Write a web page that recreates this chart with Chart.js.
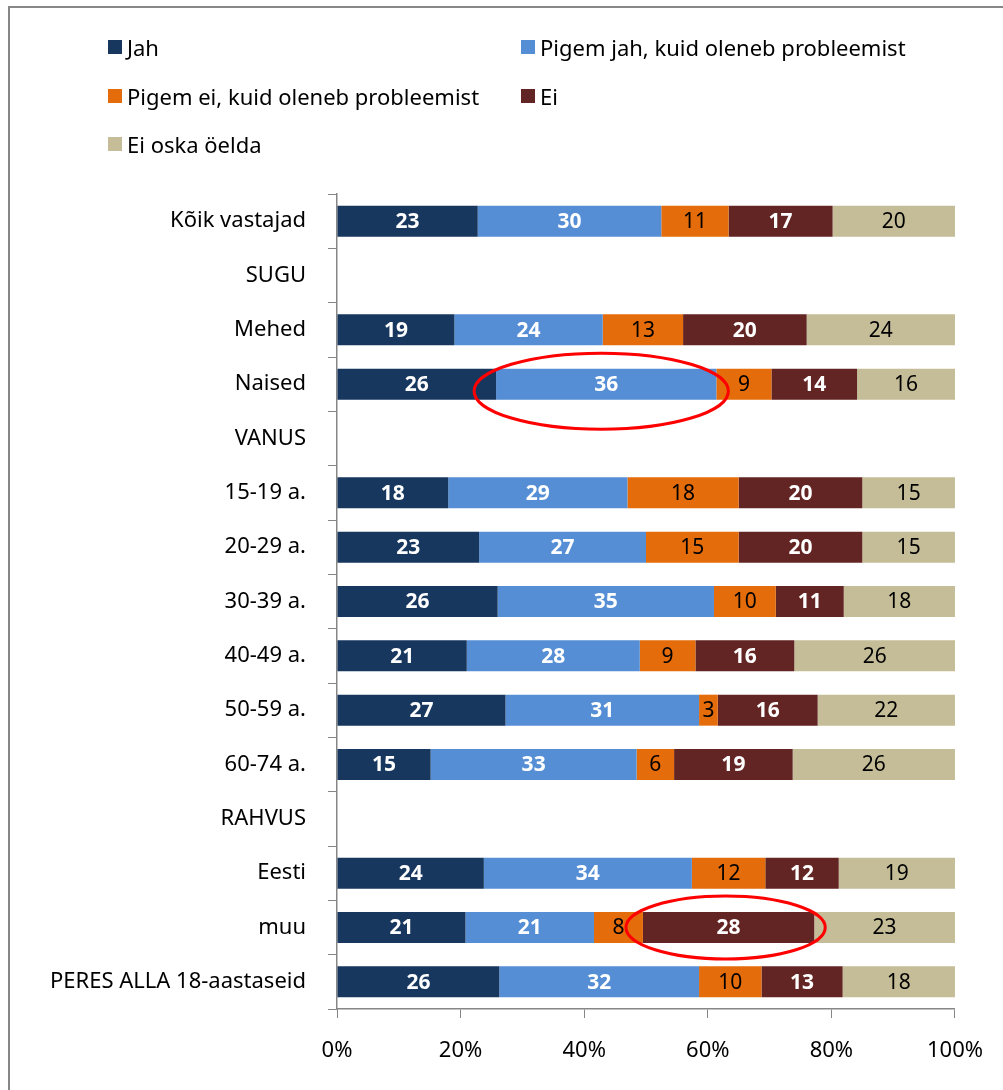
<!DOCTYPE html>
<html>
<head>
<meta charset="utf-8">
<script src="https://cdn.jsdelivr.net/npm/chart.js@4.4.1/dist/chart.umd.min.js"></script>
<style>
  html, body { margin: 0; padding: 0; background: #fff; overflow: hidden; }
  #wrap { position: relative; width: 1003px; height: 1090px; }
  #frame { position: absolute; left: 8px; top: 6px; width: 1100px; height: 1200px; border: 2px solid #878787; }
  #chart { position: absolute; left: 0; top: 0; }
  #legend { position: absolute; left: 108px; top: 23px; display: grid; grid-template-columns: 413px auto;
            font-family: "Noto Sans", sans-serif; font-size: 22px; color: #000; }
  #legend .item { height: 48.5px; display: flex; align-items: center; white-space: nowrap; }
  #legend .box { width: 14px; height: 14px; margin-right: 5px; flex: none; }
</style>
</head>
<body>
<div id="wrap">
  <div id="frame"></div>
  <canvas id="chart" width="1003" height="1090"></canvas>
  <div id="legend"></div>
</div>
<script>
var categories = ['Kõik vastajad', 'SUGU', 'Mehed', 'Naised', 'VANUS', '15-19 a.', '20-29 a.', '30-39 a.',
                  '40-49 a.', '50-59 a.', '60-74 a.', 'RAHVUS', 'Eesti', 'muu', 'PERES ALLA 18-aastaseid'];
var seriesNames = ['Jah', 'Pigem jah, kuid oleneb probleemist', 'Pigem ei, kuid oleneb probleemist', 'Ei', 'Ei oska öelda'];

var jah      = [23, null, 19, 26, null, 18, 23, 26, 21, 27, 15, null, 24, 21, 26];
var pigemJah = [30, null, 24, 36, null, 29, 27, 35, 28, 31, 33, null, 34, 21, 32];
var pigemEi  = [11, null, 13,  9, null, 18, 15, 10,  9,  3,  6, null, 12,  8, 10];
var ei       = [17, null, 20, 14, null, 20, 20, 11, 16, 16, 19, null, 12, 28, 13];
var eiOska   = [20, null, 24, 16, null, 15, 15, 18, 26, 22, 26, null, 19, 23, 18];

var xTicks = [0, 20, 40, 60, 80, 100];

// highlighted segments (row index, series index)
var highlights = [[3, 1], [13, 3]];

var raw = [jah, pigemJah, pigemEi, ei, eiOska];
var colors = ['#17375E', '#558ED5', '#E46C0A', '#632523', '#C4BD97'];
var labelColors = ['#fff', '#fff', '#000', '#fff', '#000'];
var labelBold = [true, true, false, true, false];

// 100% stacked: each row scaled to its own total
function share(series) {
  return series.map(function(v, i) {
    if (v === null) return null;
    var total = 0;
    raw.forEach(function(s) { total += s[i]; });
    return v / total * 100;
  });
}

var datasets = raw.map(function(s, k) {
  return {
    label: seriesNames[k],
    data: share(s),
    rawValues: s,
    backgroundColor: colors[k],
    borderWidth: 0,
    categoryPercentage: 1,
    barPercentage: 0.57
  };
});

var font = '"Noto Sans", sans-serif';

var segmentLabels = {
  id: 'segmentLabels',
  afterDatasetsDraw: function(chart) {
    var ctx = chart.ctx;
    ctx.save();
    ctx.textAlign = 'center';
    ctx.textBaseline = 'middle';
    chart.data.datasets.forEach(function(ds, k) {
      var meta = chart.getDatasetMeta(k);
      ctx.fillStyle = labelColors[k];
      ctx.font = (labelBold[k] ? 'bold ' : '') + '21px ' + font;
      meta.data.forEach(function(bar, i) {
        var v = ds.rawValues[i];
        if (v === null) return;
        ctx.fillText(String(v), (bar.x + bar.base) / 2, bar.y + 1);
      });
    });
    ctx.restore();
  }
};

var ellipses = {
  id: 'ellipses',
  afterDraw: function(chart) {
    var ctx = chart.ctx;
    var y = chart.scales.y;
    var step = y.getPixelForValue(1) - y.getPixelForValue(0);
    ctx.save();
    ctx.strokeStyle = '#FF0000';
    ctx.lineWidth = 3;
    highlights.forEach(function(h, n) {
      var bar = chart.getDatasetMeta(h[1]).data[h[0]];
      var x0 = Math.min(bar.x, bar.base), x1 = Math.max(bar.x, bar.base);
      var rx = (x1 - x0) / 2 + (n === 0 ? 17 : 14);
      var ry = step * (n === 0 ? 0.70 : 0.58);
      var cx = (x0 + x1) / 2 - (n === 0 ? 5 : 3);
      var cy = bar.y + (n === 0 ? 7 : 0);
      ctx.beginPath();
      ctx.ellipse(cx, cy, rx, ry, 0, 0, Math.PI * 2);
      ctx.stroke();
    });
    ctx.restore();
  }
};

var chart = new Chart(document.getElementById('chart'), {
  type: 'bar',
  data: { labels: categories, datasets: datasets },
  options: {
    indexAxis: 'y',
    responsive: false,
    animation: false,
    layout: { padding: { top: 194, right: 48, left: 0, bottom: 0 } },
    plugins: { legend: { display: false }, tooltip: { enabled: false } },
    scales: {
      x: {
        stacked: true,
        min: 0,
        max: 100,
        afterBuildTicks: function(scale) {
          scale.ticks = xTicks.map(function(v) { return { value: v }; });
        },
        afterFit: function(scale) { scale.height = 81; },
        grid: { drawOnChartArea: false, drawTicks: true, tickLength: 9, color: '#868686' },
        border: { display: true, color: '#868686', width: 1.5 },
        ticks: {
          padding: 20,
          color: '#000',
          font: { family: font, size: 22 },
          callback: function(v) { return v + '%'; }
        }
      },
      y: {
        stacked: true,
        afterFit: function(scale) { scale.width = 337; },
        grid: { drawOnChartArea: false, drawTicks: true, tickLength: 9, color: '#868686' },
        border: { display: true, color: '#868686', width: 1.5 },
        ticks: {
          padding: 22,
          color: '#000',
          autoSkip: false,
          font: { family: font, size: 22 }
        }
      }
    }
  },
  plugins: [segmentLabels, ellipses]
});

var legend = document.getElementById('legend');
chart.data.datasets.forEach(function(ds) {
  var item = document.createElement('div');
  item.className = 'item';
  var box = document.createElement('span');
  box.className = 'box';
  box.style.background = ds.backgroundColor;
  item.appendChild(box);
  item.appendChild(document.createTextNode(ds.label));
  legend.appendChild(item);
});
</script>
</body>
</html>
